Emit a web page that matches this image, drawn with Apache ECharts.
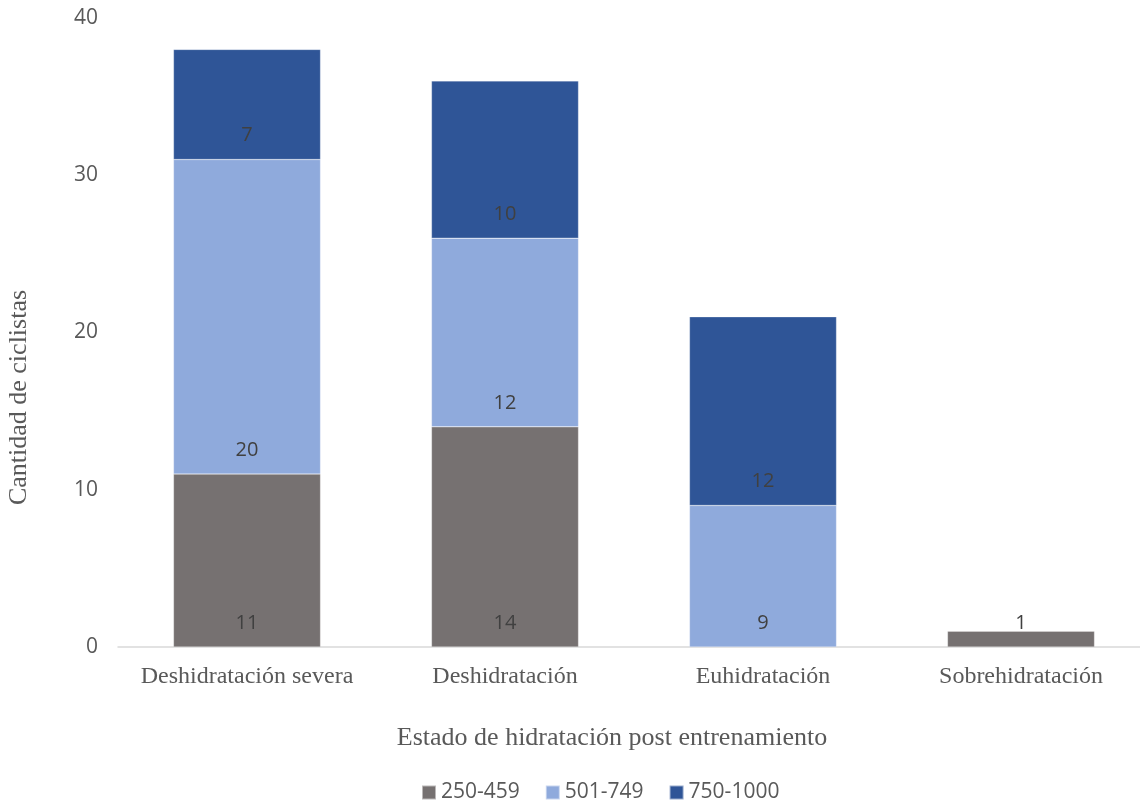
<!DOCTYPE html>
<html>
<head>
<meta charset="utf-8">
<script src="https://cdn.jsdelivr.net/npm/echarts@6/dist/echarts.min.js"></script>
<style>
  html, body { margin: 0; padding: 0; background: #fff; }
  #chart { width: 1140px; height: 803px; }
</style>
</head>
<body>
<div id="chart"></div>
<script>
// Hydration state after training, by fluid-intake range (ml)
const categories = ['Deshidratación severa', 'Deshidratación', 'Euhidratación', 'Sobrehidratación'];
const seriesNames = ['250-459', '501-749', '750-1000'];
const values250 = [11, 14, null, 1];
const values501 = [20, 12, 9, null];
const values750 = [7, 10, 12, null];
const yTicks = [0, 10, 20, 30, 40];

const colors = ['#767171', '#8FAADC', '#2F5597'];
const sans = '"Open Sans", "Noto Sans", sans-serif';
const serif = '"Liberation Serif", "DejaVu Serif", serif';

function makeSeries(name, data, color) {
  return {
    name: name,
    type: 'bar',
    stack: 'total',
    barWidth: '57%',
    data: data,
    itemStyle: { color: color, borderColor: 'rgba(255,255,255,0.5)', borderWidth: 0.5 },
    label: {
      show: true,
      position: 'insideBottom',
      distance: 14,
      fontFamily: sans,
      fontSize: 20,
      color: '#404040',
      formatter: p => (p.value == null ? '' : p.value)
    }
  };
}

const chart = echarts.init(document.getElementById('chart'), null, { renderer: 'canvas' });
chart.setOption({
  animation: false,
  backgroundColor: '#fff',
  grid: { left: 118, width: 1032, top: 18, bottom: 156, containLabel: false, outerBoundsMode: 'none' },
  legend: {
    bottom: -5,
    left: 416,
    itemWidth: 14,
    itemHeight: 14,
    itemGap: 25,
    icon: 'rect',
    textStyle: { fontFamily: sans, fontSize: 21, color: '#595959' },
    data: seriesNames
  },
  xAxis: {
    type: 'category',
    data: categories,
    name: 'Estado de hidratación post entrenamiento',
    nameLocation: 'middle',
    nameGap: 78,
    nameTextStyle: { fontFamily: serif, fontSize: 26, color: '#595959', padding: [0, 0, 0, -44] },
    axisLine: { lineStyle: { color: '#D9D9D9', width: 1.5 } },
    axisTick: { show: false },
    axisLabel: { interval: 0, fontFamily: serif, fontSize: 24, color: '#595959', margin: 18 }
  },
  yAxis: {
    type: 'value',
    min: yTicks[0],
    max: yTicks[yTicks.length - 1],
    interval: 10,
    name: 'Cantidad de ciclistas',
    nameLocation: 'middle',
    nameGap: 86,
    nameRotate: 90,
    nameTextStyle: { fontFamily: serif, fontSize: 26, color: '#595959', padding: [0, 130, 0, 0] },
    axisLine: { show: false },
    axisTick: { show: false },
    splitLine: { show: false },
    axisLabel: { fontFamily: sans, fontSize: 21, color: '#595959', margin: 20 }
  },
  series: [
    makeSeries(seriesNames[0], values250, colors[0]),
    makeSeries(seriesNames[1], values501, colors[1]),
    makeSeries(seriesNames[2], values750, colors[2])
  ]
});
</script>
</body>
</html>
